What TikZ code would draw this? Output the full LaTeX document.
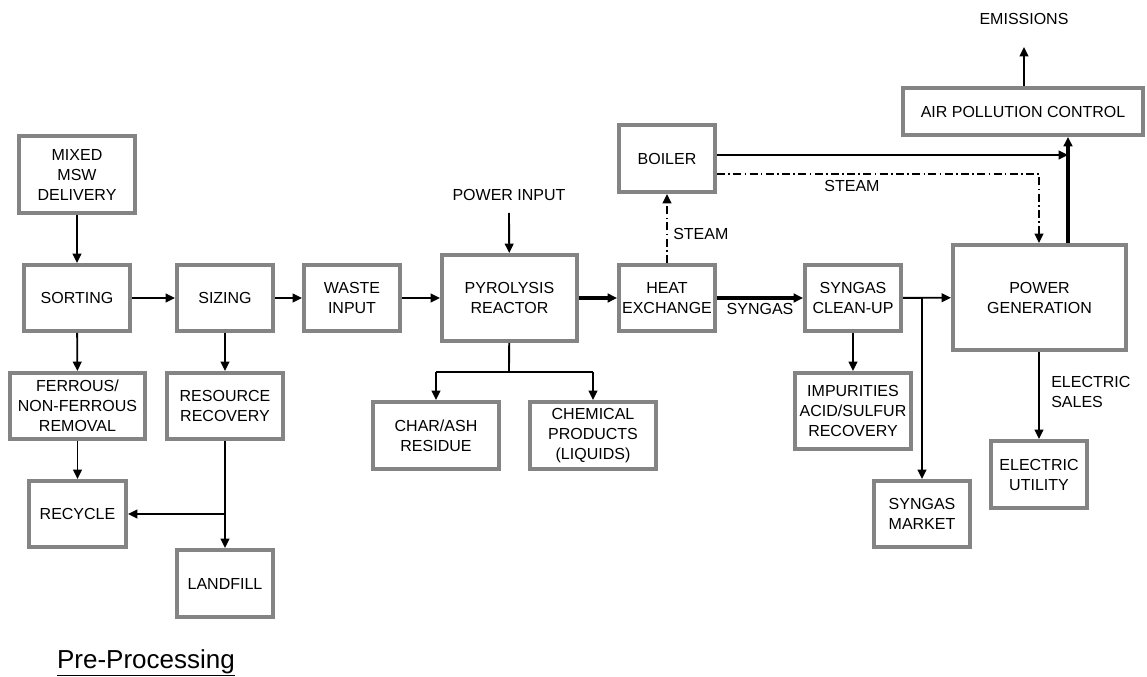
\documentclass[tikz,border=0pt]{standalone}
\usepackage{fontspec}
\setmainfont{Liberation Sans}
\usetikzlibrary{arrows.meta,calc}
\definecolor{boxgray}{RGB}{132,132,132}
\begin{document}
\begin{tikzpicture}[x=0.75pt,y=-0.75pt,
  box/.style={draw=boxgray, line width=3pt, fill=white, align=center, inner sep=0pt,
    font=\fontsize{12}{15}\selectfont},
  lbl/.style={inner sep=0pt, align=left, font=\fontsize{12}{15}\selectfont},
  arr/.style={line width=1.4pt, -{Triangle[length=7pt,width=6.5pt]}},
  thickarr/.style={line width=2.4pt, -{Triangle[length=7pt,width=6.5pt]}},
  ln/.style={line width=1.4pt},
  dd/.style={line width=1.3pt, dash pattern=on 6pt off 2.5pt on 1.2pt off 2.5pt},
  ddarr/.style={dd, -{Triangle[length=7pt,width=6.5pt]}}]
\useasboundingbox (0,0) rectangle (1147,677);
% boxes
\node[box, minimum width=116*0.75pt, minimum height=77*0.75pt] (msw) at (77,174.5) {MIXED\\MSW\\DELIVERY};
\node[box, minimum width=106*0.75pt, minimum height=66*0.75pt] (sort) at (77,298) {SORTING};
\node[box, minimum width=96*0.75pt, minimum height=66*0.75pt] (size) at (225,298) {SIZING};
\node[box, minimum width=96*0.75pt, minimum height=66*0.75pt] (waste) at (352,298) {WASTE\\INPUT};
\node[box, minimum width=135*0.75pt, minimum height=66*0.75pt] (ferr) at (77.5,406) {FERROUS/\\NON-FERROUS\\REMOVAL};
\node[box, minimum width=116*0.75pt, minimum height=66*0.75pt] (res) at (225,406) {RESOURCE\\RECOVERY};
\node[box, minimum width=97*0.75pt, minimum height=66*0.75pt] (rec) at (77.5,514) {RECYCLE};
\node[box, minimum width=96*0.75pt, minimum height=67*0.75pt] (land) at (225,583.5) {LANDFILL};
\node[box, minimum width=135*0.75pt, minimum height=86*0.75pt] (pyro) at (509.5,298) {PYROLYSIS\\REACTOR};
\node[box, minimum width=126*0.75pt, minimum height=67*0.75pt] (char) at (436,435.5) {CHAR/ASH\\RESIDUE};
\node[box, minimum width=126*0.75pt, minimum height=67*0.75pt] (chem) at (593,435.5) {CHEMICAL\\PRODUCTS\\(LIQUIDS)};
\node[box, minimum width=96*0.75pt, minimum height=66*0.75pt] (hx) at (667,298) {HEAT\\EXCHANGE};
\node[box, minimum width=96*0.75pt, minimum height=67*0.75pt] (boiler) at (667,158.5) {BOILER};
\node[box, minimum width=96*0.75pt, minimum height=66*0.75pt] (clean) at (853,298) {SYNGAS\\CLEAN-UP};
\node[box, minimum width=116*0.75pt, minimum height=76*0.75pt] (imp) at (853,411) {IMPURITIES\\ACID/SULFUR\\RECOVERY};
\node[box, minimum width=96*0.75pt, minimum height=66*0.75pt] (mkt) at (922,514) {SYNGAS\\MARKET};
\node[box, minimum width=173*0.75pt, minimum height=105*0.75pt] (pg) at (1039.5,297.5) {POWER\\GENERATION};
\node[box, minimum width=240*0.75pt, minimum height=47*0.75pt] (apc) at (1023,111.5) {AIR POLLUTION CONTROL};
\node[box, minimum width=96*0.75pt, minimum height=67*0.75pt] (util) at (1039,474.5) {ELECTRIC\\UTILITY};
% labels
\node[lbl] (emis) at (1024,19) {EMISSIONS};
\node[lbl] (pin) at (509,195) {POWER INPUT};
\node[lbl, anchor=west] (steam1) at (673,234) {STEAM};
\node[lbl] (steam2) at (852,186) {STEAM};
\node[lbl] (syng) at (760,309) {SYNGAS};
\node[lbl, anchor=west] (esales) at (1051,392) {ELECTRIC\\SALES};
\node[inner sep=0pt, font=\fontsize{19.5}{22}\selectfont] (pre) at (146,663) {\underline{Pre-Processing}};
% coordinates
\coordinate (pinend) at (509,213);
\coordinate (emend) at (1024,47);
\coordinate (pyrojoin) at (509,372);
\coordinate (charjoin) at (436,372);
\coordinate (chemjoin) at (593,372);
\coordinate (resjoin) at (225,514);
\coordinate (cleanjoin) at (922,298);
\coordinate (boilline) at (1068,155);
\coordinate (steamcorner) at (1039,174);
% connectors
\draw[arr] (msw) -- (sort);
\draw[arr] (sort) -- (size);
\draw[arr] (size) -- (waste);
\draw[arr] (waste) -- (pyro);
\draw[thickarr] (pyro) -- (hx);
\draw[thickarr] (hx) -- (clean);
\draw[arr] (clean) -- (pg);
\draw[arr] (cleanjoin) -- (mkt);
\draw[arr] (clean) -- (imp);
\draw[arr] (sort) -- (ferr);
\draw[arr] (size) -- (res);
\draw[arr] (ferr) -- (rec);
\draw[arr] (res) -- (land);
\draw[arr] (resjoin) -- (rec.east |- resjoin);
\draw[arr] (pinend) -- (pyro);
\draw[ln] (pyro) -- (pyrojoin);
\draw[ln] (charjoin) -- (chemjoin);
\draw[arr] (charjoin) -- (char);
\draw[arr] (chemjoin) -- (chem);
\draw[ddarr] (hx) -- (boiler);
\draw[arr] (boiler.east |- boilline) -- (boilline);
\draw[thickarr] (pg.north -| boilline) -- (apc.south -| boilline);
\draw[ddarr] (boiler.east |- steamcorner) -- (steamcorner) -- (pg.north -| steamcorner);
\draw[arr] (apc.north -| emend) -- (emend);
\draw[arr] (pg.south -| util) -- (util);
\end{tikzpicture}
\end{document}
